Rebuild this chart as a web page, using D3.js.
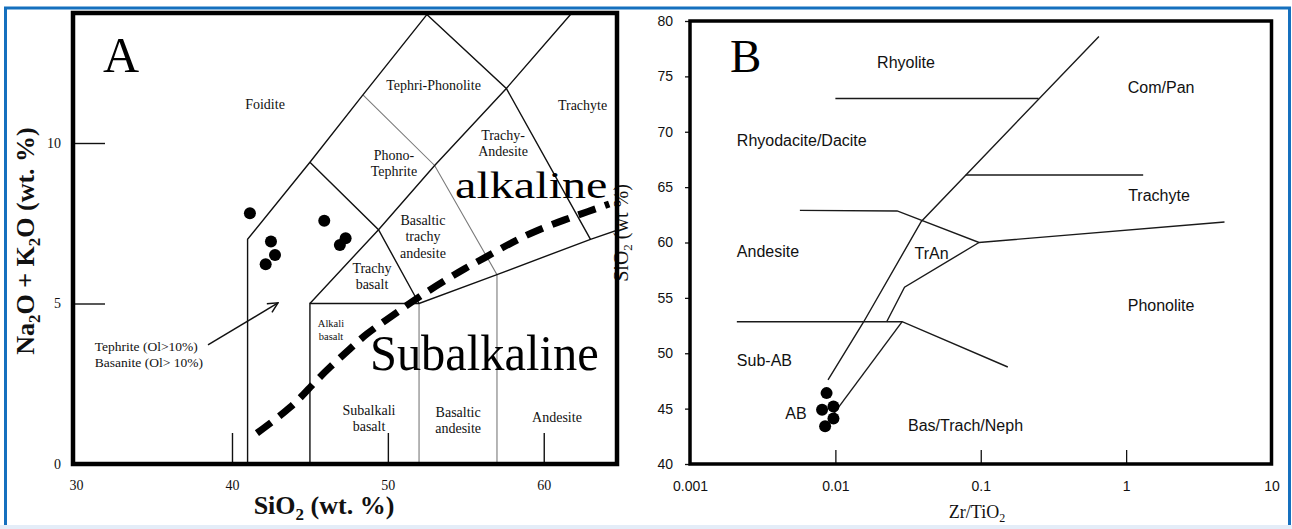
<!DOCTYPE html>
<html>
<head>
<meta charset="utf-8">
<script src="https://cdn.jsdelivr.net/npm/d3@7"></script>
<style>
  html, body { margin: 0; padding: 0; background: #fff; }
  svg { display: block; }
</style>
</head>
<body>
<svg id="fig" width="1292" height="529"></svg>
<script>
// ---------- Sample data ----------
// TAS diagram (SiO2 vs Na2O+K2O, wt.%)
const sampleSiO2 = [41.15, 42.5, 42.76, 42.16, 45.92, 47.29, 46.92];
const sampleAlkali = [7.81, 6.93, 6.51, 6.22, 7.58, 7.03, 6.82];
// Zr/TiO2 vs SiO2 diagram
const sampleZrTiO2 = [0.0087, 0.0081, 0.0097, 0.0097, 0.0085];
const sampleSiO2B = [46.4, 44.9, 45.2, 44.1, 43.4];

// ---------- Axis ticks ----------
const tasXTicks = [30, 40, 50, 60];
const tasYTicks = [0, 5, 10];
const wfXTicks = [0.001, 0.01, 0.1, 1, 10];
const wfYTicks = [40, 45, 50, 55, 60, 65, 70, 75, 80];

// ---------- TAS field boundaries (SiO2, Na2O+K2O) ----------
const tasBlackLines = [
  [[41, 0], [41, 7], [45, 9.4], [48.4, 11.5], [52.5, 14]],
  [[45, 0], [45, 5], [52, 5], [57, 5.9], [63, 7], [69, 8]],
  [[45, 5], [49.4, 7.3], [53, 9.3], [57.6, 11.7], [61.8, 14.05]],
  [[45, 9.4], [49.4, 7.3], [52, 5]],
  [[52.5, 14], [57.6, 11.7], [63, 7]]
];
const tasGreyLines = [
  [[48.4, 11.5], [53, 9.3], [57, 5.9], [57, 0]],
  [[52, 0], [52, 5]]
];
// Alkaline / subalkaline divide
const divideSiO2 = [41.6, 43.9, 45.1, 46.3, 47.6, 48.6, 49.9, 51.1, 52.1, 53.7, 54.9, 56.2, 58.0, 59.6, 61.4, 62.8, 64.2];
const divideAlkali = [0.96, 1.79, 2.45, 3.03, 3.60, 4.05, 4.49, 4.90, 5.24, 5.73, 6.08, 6.42, 6.92, 7.29, 7.62, 7.86, 8.10];

// TAS field names: [lines, SiO2, alkali of first line]
const tasFieldNames = [
  [["Foidite"], 42.12, 11.21],
  [["Tephri-Phonolite"], 52.93, 11.81],
  [["Trachyte"], 62.49, 11.18],
  [["Trachy-", "Andesite"], 57.39, 10.25],
  [["Phono-", "Tephrite"], 50.39, 9.63],
  [["Basaltic", "trachy", "andesite"], 52.25, 7.60],
  [["Trachy", "basalt"], 48.98, 6.11],
  [["Subalkali", "basalt"], 48.79, 1.68],
  [["Basaltic", "andesite"], 54.51, 1.62],
  [["Andesite"], 60.85, 1.46]
];
const tasSmallNames = [[["Alkali", "basalt"], 46.35, 4.39]];
const tasNote = ["Tephrite (Ol>10%)", "Basanite (Ol> 10%)"];
const tasNoteAt = [31.2, 3.68];
const tasArrow = [[38.46, 3.71], [42.95, 5.02]];

// ---------- Zr/TiO2 vs SiO2 field boundaries ----------
const wfLines = [
  [[0.01, 73], [0.25, 73]],
  [[0.0089, 47.6], [0.0156, 52.8], [0.039, 61.9], [0.65, 78.6]],
  [[0.0788, 66.1], [1.31, 66.1]],
  [[0.0057, 62.9], [0.0266, 62.85], [0.0973, 60.0], [4.75, 61.85]],
  [[0.0225, 52.82], [0.0299, 55.96], [0.0973, 60.0]],
  [[0.0021, 52.85], [0.0288, 52.85], [0.1535, 48.76]],
  [[0.0097, 44.5], [0.0288, 52.85]]
];
// [name, Zr/TiO2, SiO2, anchor]
const wfFieldNames = [
  ["Rhyolite", 0.0306, 76.3, "middle"],
  ["Com/Pan", 1.74, 74.04, "middle"],
  ["Rhyodacite/Dacite", 0.0021, 69.26, "start"],
  ["Trachyte", 1.683, 64.29, "middle"],
  ["Andesite", 0.0021, 59.23, "start"],
  ["TrAn", 0.0459, 59.05, "middle"],
  ["Phonolite", 1.74, 54.36, "middle"],
  ["Sub-AB", 0.0021, 49.39, "start"],
  ["AB", 0.00536, 44.58, "middle"],
  ["Bas/Trach/Neph", 0.0316, 43.52, "start"]
];

// ---------- Drawing ----------
const SERIF = "'Liberation Serif', 'Times New Roman', Times, serif";
const SANS = "'Liberation Sans', Arial, Helvetica, sans-serif";
const svg = d3.select("#fig");

// page frame
svg.append("rect").attr("x", 0).attr("y", 0).attr("width", 1292).attr("height", 529).attr("fill", "#fff");
svg.append("rect").attr("x", 0).attr("y", 525).attr("width", 1292).attr("height", 4).attr("fill", "#e4edf8");
const blue = "#1570be";
svg.append("line").attr("x1", 4).attr("x2", 1291).attr("y1", 8).attr("y2", 8).attr("stroke", blue).attr("stroke-width", 3);
svg.append("line").attr("x1", 5.5).attr("x2", 5.5).attr("y1", 7).attr("y2", 525).attr("stroke", blue).attr("stroke-width", 3);
svg.append("line").attr("x1", 1289.5).attr("x2", 1289.5).attr("y1", 7).attr("y2", 525).attr("stroke", blue).attr("stroke-width", 3);

const defs = svg.append("defs");
defs.append("clipPath").attr("id", "clipA").append("rect")
  .attr("x", 73).attr("y", 13).attr("width", 544).attr("height", 451);
defs.append("marker").attr("id", "openArrow")
  .attr("viewBox", "0 0 12 12").attr("refX", 11).attr("refY", 6)
  .attr("markerWidth", 12).attr("markerHeight", 12)
  .attr("markerUnits", "userSpaceOnUse").attr("orient", "auto")
  .append("path").attr("d", "M1,1 L11,6 L1,11")
  .attr("fill", "none").attr("stroke", "#111").attr("stroke-width", 1.5);

// ===== Panel B: Zr/TiO2 vs SiO2 =====
const xB = d3.scaleLog().domain([0.001, 10]).range([690, 1271.5]);
const yB = d3.scaleLinear().domain([40, 80]).range([464, 21]);
const gB = svg.append("g");
const lineB = d3.line().x(d => xB(d[0])).y(d => yB(d[1]));

gB.selectAll("path.wf").data(wfLines).join("path")
  .attr("class", "wf").attr("d", lineB)
  .attr("fill", "none").attr("stroke", "#1a1a1a").attr("stroke-width", 1.4);

gB.selectAll("text.wfname").data(wfFieldNames).join("text")
  .attr("class", "wfname")
  .attr("x", d => xB(d[1])).attr("y", d => yB(d[2])).attr("dy", "0.36em")
  .attr("text-anchor", d => d[3])
  .attr("font-family", SANS).attr("font-size", 16).attr("fill", "#111")
  .text(d => d[0]);

gB.selectAll("circle").data(sampleZrTiO2).join("circle")
  .attr("cx", d => xB(d)).attr("cy", (d, i) => yB(sampleSiO2B[i]))
  .attr("r", 6).attr("fill", "#000");

// axes
const axBx = gB.append("g").attr("transform", "translate(0,464)")
  .call(d3.axisBottom(xB).tickValues(wfXTicks).tickFormat(d3.format("~g"))
    .tickSizeInner(-14).tickSizeOuter(0).tickPadding(17));
axBx.select(".domain").remove();
axBx.selectAll("text").attr("font-family", SANS).attr("font-size", 14).attr("fill", "#111");
axBx.selectAll(".tick line").attr("stroke", "#111").attr("stroke-width", 1.3)
  .filter(d => d === 0.001 || d === 10).remove();

const axBy = gB.append("g").attr("transform", "translate(690,0)")
  .call(d3.axisLeft(yB).tickValues(wfYTicks).tickSizeInner(5).tickSizeOuter(0).tickPadding(12));
axBy.select(".domain").remove();
axBy.selectAll("text").attr("font-family", SANS).attr("font-size", 14).attr("fill", "#111");
axBy.selectAll(".tick line").attr("stroke", "#111").attr("stroke-width", 1.3);

gB.append("rect").attr("x", 690).attr("y", 21).attr("width", 581.5).attr("height", 443)
  .attr("fill", "none").attr("stroke", "#000").attr("stroke-width", 3.5);

gB.append("text").attr("x", 730).attr("y", 72)
  .attr("font-family", SERIF).attr("font-size", 47).attr("fill", "#000").text("B");

// x title
const tB = gB.append("text").attr("x", 977).attr("y", 518).attr("text-anchor", "middle")
  .attr("font-family", SERIF).attr("font-size", 18).attr("fill", "#111");
tB.append("tspan").text("Zr/TiO");
tB.append("tspan").attr("dy", 4).attr("font-size", 12).text("2");

// y title (runs beside panel A's frame)
const yTitleB = gB.append("text").attr("transform", "translate(628,233) rotate(-90)")
  .attr("text-anchor", "middle").attr("font-family", SERIF).attr("font-size", 20).attr("fill", "#111");
yTitleB.append("tspan").text("SiO");
yTitleB.append("tspan").attr("dy", 4).attr("font-size", 13).text("2");
yTitleB.append("tspan").attr("dy", -4).text(" (wt %)");

// ===== Panel A: TAS =====
const xA = d3.scaleLinear().domain([29.8, 64.7]).range([73, 617]);
const yA = d3.scaleLinear().domain([0, 14.05]).range([464, 13]);
const gA = svg.append("g");
const lineA = d3.line().x(d => xA(d[0])).y(d => yA(d[1]));
const plotA = gA.append("g").attr("clip-path", "url(#clipA)");

plotA.selectAll("path.grey").data(tasGreyLines).join("path")
  .attr("class", "grey").attr("d", lineA)
  .attr("fill", "none").attr("stroke", "#7a7a7a").attr("stroke-width", 1.1);
plotA.selectAll("path.black").data(tasBlackLines).join("path")
  .attr("class", "black").attr("d", lineA)
  .attr("fill", "none").attr("stroke", "#111").attr("stroke-width", 1.4);

// field names
function fieldText(group, list, size, gap) {
  list.forEach(([lines, sx, ay]) => {
    lines.forEach((t, i) => {
      group.append("text")
        .attr("x", xA(sx)).attr("y", yA(ay) + i * gap).attr("dy", "0.35em")
        .attr("text-anchor", "middle").attr("font-family", SERIF).attr("font-size", size).attr("fill", "#111")
        .text(t);
    });
  });
}
fieldText(plotA, tasFieldNames, 14, 16.5);
fieldText(plotA, tasSmallNames, 10.5, 13.5);

// series names
plotA.append("text")
  .attr("transform", `translate(${xA(54.31)},${yA(8.29)}) scale(1.3,1)`)
  .attr("font-family", SERIF).attr("font-size", 37).attr("fill", "#000").text("alkaline");
plotA.append("text")
  .attr("transform", `translate(${xA(48.85)},${yA(2.93)}) scale(0.95,1)`)
  .attr("font-family", SERIF).attr("font-size", 51).attr("fill", "#000").text("Subalkaline");

// dashed divide
plotA.append("path")
  .datum(divideSiO2.map((s, i) => [s, divideAlkali[i]]))
  .attr("d", d3.line().x(d => xA(d[0])).y(d => yA(d[1])).curve(d3.curveBasis))
  .attr("fill", "none").attr("stroke", "#000").attr("stroke-width", 7)
  .attr("stroke-dasharray", "18,10");

// note and arrow
tasNote.forEach((t, i) => {
  plotA.append("text").attr("x", xA(tasNoteAt[0])).attr("y", yA(tasNoteAt[1]) + i * 16).attr("dy", "0.35em")
    .attr("font-family", SERIF).attr("font-size", 13.5).attr("fill", "#111").text(t);
});
plotA.append("path").attr("d", lineA(tasArrow))
  .attr("fill", "none").attr("stroke", "#111").attr("stroke-width", 1.5)
  .attr("marker-end", "url(#openArrow)");

// samples
plotA.selectAll("circle").data(sampleSiO2).join("circle")
  .attr("cx", d => xA(d)).attr("cy", (d, i) => yA(sampleAlkali[i]))
  .attr("r", 6).attr("fill", "#000");

// axes
const axAx = gA.append("g").attr("transform", "translate(0,464)")
  .call(d3.axisBottom(xA).tickValues(tasXTicks).tickSizeInner(-31).tickSizeOuter(0).tickPadding(16));
axAx.select(".domain").remove();
axAx.selectAll("text").attr("font-family", SERIF).attr("font-size", 14).attr("fill", "#111");
axAx.selectAll(".tick line").attr("stroke", "#111").attr("stroke-width", 1.4)
  .filter(d => d === 30).remove();

const axAy = gA.append("g").attr("transform", "translate(73,0)")
  .call(d3.axisLeft(yA).tickValues(tasYTicks).tickSizeInner(-32).tickSizeOuter(0).tickPadding(12));
axAy.select(".domain").remove();
axAy.selectAll("text").attr("font-family", SERIF).attr("font-size", 14).attr("fill", "#111");
axAy.selectAll(".tick line").attr("stroke", "#111").attr("stroke-width", 1.4)
  .filter(d => d === 0).remove();

gA.append("rect").attr("x", 73).attr("y", 13).attr("width", 544).attr("height", 451)
  .attr("fill", "none").attr("stroke", "#000").attr("stroke-width", 4.5);

gA.append("text").attr("x", 103).attr("y", 72)
  .attr("font-family", SERIF).attr("font-size", 50).attr("fill", "#000").text("A");

// axis titles
const xtA = gA.append("text").attr("x", 324).attr("y", 514).attr("text-anchor", "middle")
  .attr("font-family", SERIF).attr("font-size", 26).attr("font-weight", "bold").attr("fill", "#111");
xtA.append("tspan").text("SiO");
xtA.append("tspan").attr("dy", 6).attr("font-size", 17).text("2");
xtA.append("tspan").attr("dy", -6).text(" (wt. %)");

const ytA = gA.append("text").attr("transform", "translate(34,241) rotate(-90)").attr("text-anchor", "middle")
  .attr("font-family", SERIF).attr("font-size", 26).attr("font-weight", "bold").attr("fill", "#111");
ytA.append("tspan").text("Na");
ytA.append("tspan").attr("dy", 6).attr("font-size", 17).text("2");
ytA.append("tspan").attr("dy", -6).text("O + K");
ytA.append("tspan").attr("dy", 6).attr("font-size", 17).text("2");
ytA.append("tspan").attr("dy", -6).text("O (wt. %)");
</script>
</body>
</html>
